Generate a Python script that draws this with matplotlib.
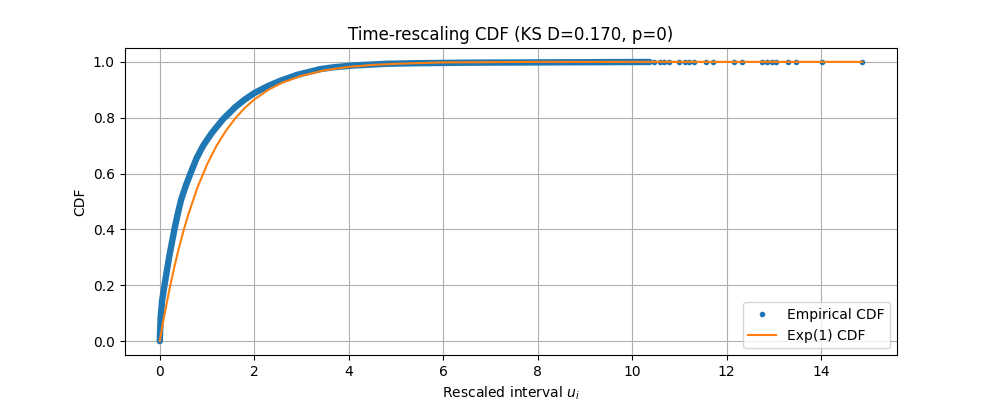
import matplotlib
matplotlib.use("Agg")
import matplotlib.pyplot as plt

# empirical CDF, dense part
emp_u = [0.0, 0.02, 0.05, 0.10, 0.20, 0.31, 0.38, 0.45, 0.55, 0.65, 0.78, 0.92, 1.10, 1.34,
         1.60, 1.80, 2.00, 2.30, 2.55, 2.90, 3.40, 3.70, 4.10, 4.80, 5.40, 6.50, 8.00,
         9.50, 10.37]
emp_F = [0.0, 0.087, 0.145, 0.200, 0.302, 0.400, 0.455, 0.505, 0.556, 0.600, 0.655, 0.700,
         0.745, 0.795, 0.838, 0.865, 0.888, 0.914, 0.932, 0.953, 0.974, 0.981, 0.987, 0.993,
         0.995, 0.997, 0.998, 0.999, 0.9995]

# empirical CDF, sparse tail points
tail_u = [10.47, 10.58, 10.68, 10.79, 11.00, 11.11, 11.21, 11.32, 11.57, 11.72,
          12.16, 12.33, 12.75, 12.86, 12.96, 13.05, 13.30, 13.47, 14.02, 14.87]
tail_F = [0.9996, 0.9996, 0.9997, 0.9997, 0.9997, 0.9997, 0.9998, 0.9998, 0.9998, 0.9998,
          0.9998, 0.9999, 0.9999, 0.9999, 0.9999, 0.9999, 0.9999, 1.0, 1.0, 1.0]

# Exp(1) reference CDF
exp_u = [0, 0.05, 0.1, 0.2, 0.3, 0.4, 0.5, 0.6, 0.8, 1.0, 1.2, 1.4, 1.6, 1.8, 2.0,
         2.3, 2.6, 3.0, 3.5, 4.0, 4.5, 5.0, 6.0, 7.0, 8.0, 10.0, 12.0, 14.87]
exp_F = [0, 0.049, 0.095, 0.181, 0.259, 0.330, 0.393, 0.451, 0.551, 0.632, 0.699, 0.753,
         0.798, 0.835, 0.865, 0.900, 0.926, 0.950, 0.970, 0.982, 0.989, 0.993, 0.998,
         0.999, 1.0, 1.0, 1.0, 1.0]

fig, ax = plt.subplots(figsize=(9.97, 3.99), dpi=100)

ax.plot(emp_u, emp_F, color="C0", lw=4.6, solid_capstyle="round",
        solid_joinstyle="round", zorder=2)
ax.plot(tail_u, tail_F, ".", color="C0", label="Empirical CDF", zorder=2)
ax.plot(exp_u, exp_F, color="C1", label="Exp(1) CDF", zorder=3)

ax.set_title("Time-rescaling CDF (KS D=0.170, p=0)")
ax.set_xlabel("Rescaled interval $u_i$")
ax.set_ylabel("CDF")
ax.grid(True)
ax.legend(loc="lower right")

fig.savefig("out.png", dpi=100)
